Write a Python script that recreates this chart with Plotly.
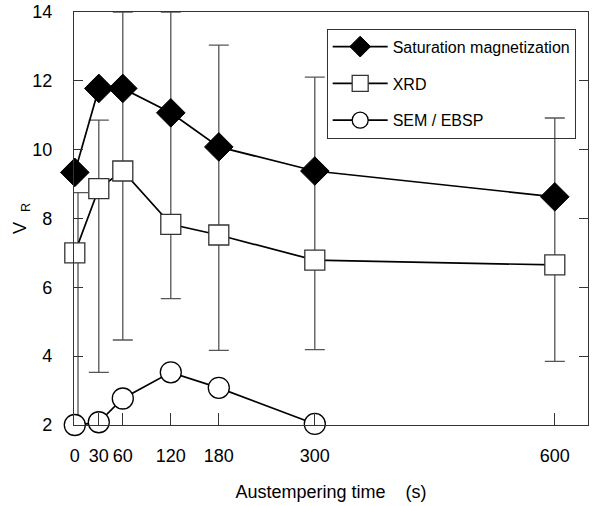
import plotly.graph_objects as go

# ---- data ----
time_s = [0, 30, 60, 120, 180, 300, 600]
sat_mag = [9.34, 11.78, 11.78, 11.07, 10.08, 9.38, 8.63]
xrd = [7.0, 8.87, 9.38, 7.83, 7.52, 6.79, 6.65]
sem_time = [0, 30, 60, 120, 180, 300]
sem_ebsp = [2.0, 2.08, 2.77, 3.53, 3.08, 2.03]

err_time = [4, 30, 60, 120, 180, 300, 600]
err_upper = [8.75, 10.86, 14.0, 14.0, 13.04, 12.11, 10.92]
err_lower = [2.0, 3.53, 4.47, 5.67, 4.17, 4.19, 3.85]

x_ticks = [0, 30, 60, 120, 180, 300, 600]
y_ticks = [2, 4, 6, 8, 10, 12, 14]

FONT = "Liberation Sans, Arial, sans-serif"

fig = go.Figure()

# error bars (range bars)
fig.add_trace(go.Scatter(
    x=err_time, y=err_upper, mode="markers",
    marker=dict(size=1, color="rgba(0,0,0,0)"),
    error_y=dict(type="data", symmetric=False,
                 array=[0] * len(err_upper),
                 arrayminus=[u - l for u, l in zip(err_upper, err_lower)],
                 color="#555555", thickness=1.3, width=10),
    showlegend=False, hoverinfo="skip", cliponaxis=False,
))

fig.add_trace(go.Scatter(
    x=time_s, y=sat_mag, mode="lines+markers", name="Saturation magnetization",
    line=dict(color="black", width=1.7),
    marker=dict(symbol="diamond", size=22, color="black",
                line=dict(color="black", width=1)),
    legendgroup="a", cliponaxis=False,
))
fig.add_trace(go.Scatter(
    x=time_s, y=xrd, mode="lines+markers", name="XRD",
    line=dict(color="black", width=1.7),
    marker=dict(symbol="square", size=20, color="white",
                line=dict(color="#333333", width=1.3)),
    legendgroup="b", cliponaxis=False,
))
fig.add_trace(go.Scatter(
    x=sem_time, y=sem_ebsp, mode="lines+markers", name="SEM / EBSP",
    line=dict(color="black", width=1.7),
    marker=dict(symbol="circle", size=21, color="white",
                line=dict(color="black", width=1.3)),
    legendgroup="c", cliponaxis=False,
))

fig.update_layout(
    width=594, height=506,
    margin=dict(l=74, r=6, t=12, b=81, autoexpand=False),
    paper_bgcolor="white", plot_bgcolor="white",
    font=dict(family=FONT, size=18, color="black"),
    showlegend=True,
    legend=dict(
        x=0.4916, y=0.9596, xanchor="left", yanchor="top",
        bgcolor="rgba(255,255,255,0)", bordercolor="#333333", borderwidth=1,
        font=dict(family=FONT, size=16, color="black"),
        traceorder="grouped", tracegroupgap=13, itemwidth=55,
    ),
    xaxis=dict(
        range=[-1, 641.5], tickmode="array", tickvals=x_ticks,
        ticktext=[str(v) for v in x_ticks],
        ticks="inside", ticklen=12, tickcolor="#333333", tickwidth=1,
        showline=True, linecolor="#333333", linewidth=1.2, mirror=True,
        showgrid=False, zeroline=False, automargin=False,
        ticklabelstandoff=14,
        title=dict(text="Austempering time\u00a0\u00a0\u00a0\u00a0(s)",
                   font=dict(size=18), standoff=20),
    ),
    yaxis=dict(
        range=[2, 14], tickmode="array", tickvals=y_ticks,
        ticks="inside", ticklen=9, tickcolor="#333333", tickwidth=1,
        showline=True, linecolor="#333333", linewidth=1.2, mirror="ticks",
        showgrid=False, zeroline=False, automargin=False,
        ticklabelstandoff=17,
        title=dict(text="V\u00a0\u00a0<sub>R</sub>", font=dict(size=18), standoff=0),
    ),
)

fig.write_html("out.html")
